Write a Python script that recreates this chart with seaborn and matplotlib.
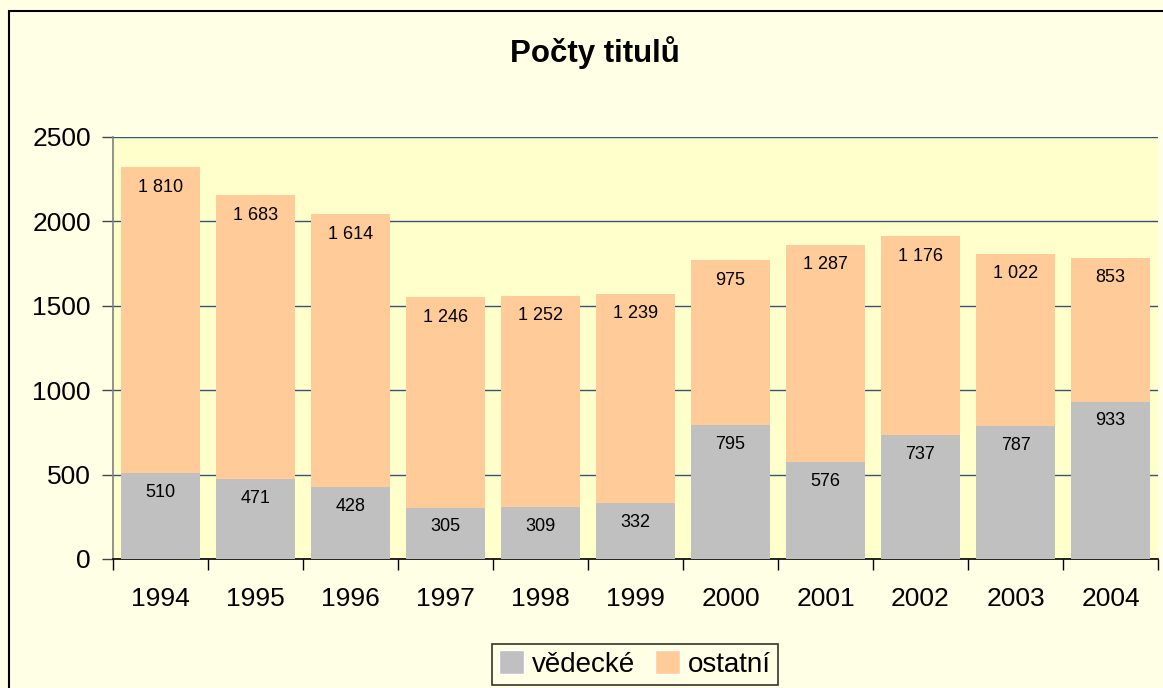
import matplotlib
matplotlib.use("Agg")
import matplotlib.pyplot as plt
import matplotlib.patches as mpatches
import numpy as np
import pandas as pd
import seaborn as sns

# -------------------------
# Data
# -------------------------
years = ["1994", "1995", "1996", "1997", "1998", "1999",
         "2000", "2001", "2002", "2003", "2004"]
vedecke = [510, 471, 428, 305, 309, 332, 795, 576, 737, 787, 933]
ostatni = [1810, 1683, 1614, 1246, 1252, 1239, 975, 1287, 1176, 1022, 853]

title = "Počty titulů"
series_names = ["vědecké", "ostatní"]
colors = {"vědecké": "#C0C0C0", "ostatní": "#FFCC99"}


def fmt(v):
    return f"{v:,}".replace(",", " ")


def main():
    sns.set_style("white")
    plt.rcParams["font.family"] = ["Liberation Sans", "DejaVu Sans"]
    plt.rcParams["text.color"] = "black"
    plt.rcParams["xtick.color"] = "black"
    plt.rcParams["ytick.color"] = "black"

    df = pd.DataFrame({"rok": years, "vědecké": vedecke, "ostatní": ostatni})
    df["celkem"] = df["vědecké"] + df["ostatní"]

    fig = plt.figure(figsize=(11.63, 6.88), dpi=100)
    fig.patch.set_facecolor("#FFFFE5")
    ax = fig.add_axes([113 / 1163, 1 - 559 / 688, 1045 / 1163, 422 / 688])
    ax.set_facecolor("#FFFFCC")

    # outer chart frame (cut off on the right and bottom like the original)
    frame = mpatches.Rectangle((9 / 1163, -0.1), 1.2, 1 - 11 / 688 + 0.1,
                               transform=fig.transFigure, fill=False,
                               edgecolor="black", linewidth=1.5)
    fig.patches.append(frame)

    # stacked bars: total first, then the lower series on top of it
    sns.barplot(data=df, x="rok", y="celkem", color=colors["ostatní"],
                width=0.83, saturation=1, linewidth=0, ax=ax, zorder=2)
    sns.barplot(data=df, x="rok", y="vědecké", color=colors["vědecké"],
                width=0.83, saturation=1, linewidth=0, ax=ax, zorder=3)

    for i, row in df.iterrows():
        ax.annotate(fmt(row["ostatní"]), (i, row["celkem"]),
                    xytext=(0, -14.5), textcoords="offset points",
                    ha="center", va="center", fontsize=13, zorder=4)
        ax.annotate(fmt(row["vědecké"]), (i, row["vědecké"]),
                    xytext=(0, -14), textcoords="offset points",
                    ha="center", va="center", fontsize=13, zorder=4)

    ax.set_xlim(-0.5, len(years) - 0.5)
    ax.set_ylim(0, 2500)
    ax.set_yticks(np.arange(0, 2501, 500))
    ax.yaxis.grid(True, color="#34557A", linewidth=1)
    ax.set_axisbelow(True)

    ax.set_xticks(np.arange(-0.5, len(years), 1.0), minor=True)
    ax.tick_params(axis="x", which="major", length=0, pad=20, labelsize=19)
    ax.tick_params(axis="x", which="minor", length=8, width=1,
                   direction="out", color="black", bottom=True)
    ax.tick_params(axis="y", length=8, width=1, direction="out",
                   color="#444444", left=True, pad=8, labelsize=19)

    ax.set_xlabel("")
    ax.set_ylabel("")
    for side in ["top", "right"]:
        ax.spines[side].set_visible(False)
    ax.spines["left"].set_color("#808080")
    ax.spines["left"].set_linewidth(1.2)
    ax.spines["bottom"].set_color("black")
    ax.spines["bottom"].set_linewidth(1.2)

    fig.text(595 / 1163, 1 - 53 / 688, title, ha="center", va="center",
             fontsize=22.5, fontweight="bold")

    handles = [mpatches.Patch(facecolor=colors[n], label=n) for n in series_names]
    leg = fig.legend(handles=handles, loc="center",
                     bbox_to_anchor=(635 / 1163, 1 - 664 / 688), ncol=2,
                     fontsize=20, frameon=True, fancybox=False,
                     handlelength=0.9, handleheight=0.9, handletextpad=0.3,
                     columnspacing=0.7, borderpad=0.25, borderaxespad=0)
    leg.get_frame().set_edgecolor("black")
    leg.get_frame().set_facecolor("#FFFFE5")
    leg.get_frame().set_linewidth(1.2)

    fig.savefig("out.png", dpi=100, facecolor=fig.get_facecolor())


if __name__ == "__main__":
    main()
